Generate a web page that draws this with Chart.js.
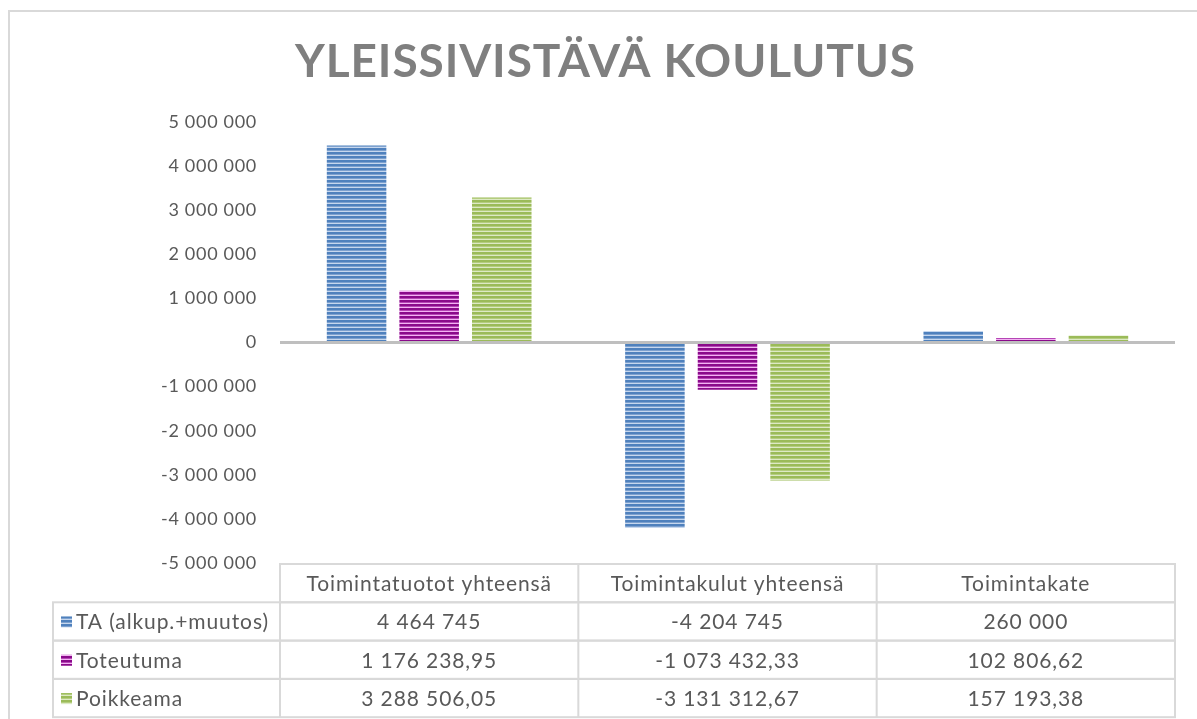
<!DOCTYPE html>
<html>
<head>
<meta charset="utf-8">
<script src="https://cdn.jsdelivr.net/npm/chart.js"></script>
<style>
  html, body { margin: 0; padding: 0; background: #fff; }
  #wrap { width: 1197px; height: 719px; position: relative; }
</style>
</head>
<body>
<div id="wrap"><canvas id="chart" width="1197" height="719"></canvas></div>
<script>
// data
const categories = ['Toimintatuotot yhteensä', 'Toimintakulut yhteensä', 'Toimintakate'];
const seriesNames = ['TA (alkup.+muutos)', 'Toteutuma', 'Poikkeama'];
const taValues = [4464745, -4204745, 260000];
const toteutumaValues = [1176238.95, -1073432.33, 102806.62];
const poikkeamaValues = [3288506.05, -3131312.67, 157193.38];
const yTicks = [5000000, 4000000, 3000000, 2000000, 1000000, 0, -1000000, -2000000, -3000000, -4000000, -5000000];

const FONT = 'Lato, "Open Sans", sans-serif';
const TEXT = '#595959';
const LINE = '#d9d9d9';

// striped fill like the excel pattern
function stripes(dark, mid, light) {
    const c = document.createElement('canvas');
    c.width = 4; c.height = 4;
    const g = c.getContext('2d');
    g.fillStyle = dark; g.fillRect(0, 0, 4, 2);
    g.fillStyle = mid; g.fillRect(0, 2, 4, 1);
    g.fillStyle = light; g.fillRect(0, 3, 4, 1);
    return g.createPattern(c, 'repeat');
}
const fills = [
    stripes('#4f81bd', '#7da1cf', '#c6d7ee'),
    stripes('#8a0a8a', '#b546b5', '#f2b3f2'),
    stripes('#9bbb59', '#b4cd7e', '#dde9c5')
];

function fmt(v) {
    const neg = v < 0;
    const a = Math.abs(v);
    let whole = Math.floor(a + 1e-9);
    let dec = Math.round((a - whole) * 100);
    let s = String(whole).replace(/\B(?=(\d{3})+(?!\d))/g, ' ');
    if (dec > 0) s += ',' + String(dec).padStart(2, '0');
    return (neg ? '-' : '') + s;
}

const allSeries = [taValues, toteutumaValues, poikkeamaValues];

const frame = {
    id: 'frame',
    beforeDraw(chart) {
        const ctx = chart.ctx;
        ctx.save();
        ctx.strokeStyle = LINE;
        ctx.lineWidth = 2;
        ctx.beginPath();
        ctx.moveTo(9, 719); ctx.lineTo(9, 11); ctx.lineTo(1197, 11);
        ctx.stroke();

        // title with letter spacing
        const title = 'YLEISSIVISTÄVÄ KOULUTUS';
        ctx.font = 'bold 46px ' + FONT;
        ctx.fillStyle = '#7f7f7f';
        ctx.textBaseline = 'alphabetic';
        ctx.textAlign = 'left';
        ctx.letterSpacing = '0px';
        const plain = ctx.measureText(title).width;
        const sp = (620 - plain) / (title.length - 1);
        ctx.letterSpacing = sp + 'px';
        ctx.fillText(title, 295, 77);
        ctx.restore();
        // a little spacing for the axis labels, like excel's text
        ctx.letterSpacing = '0.7px';
    }
};

const dataTable = {
    id: 'dataTable',
    afterDraw(chart) {
        const ctx = chart.ctx;
        const x = chart.scales.x;
        const area = chart.chartArea;
        const n = categories.length;
        const colW = (area.right - area.left) / n;
        const top = area.bottom + 1;
        const rowH = 38.3;
        const left = 53;
        ctx.save();
        ctx.strokeStyle = LINE;
        ctx.lineWidth = 2;
        // header row
        ctx.strokeRect(area.left, top, area.right - area.left, rowH);
        for (let i = 0; i < 3; i++) {
            const y = top + rowH * (i + 1);
            ctx.strokeRect(left, y, area.right - left, rowH);
        }
        ctx.beginPath();
        for (let c = 0; c <= n; c++) {
            const cx = area.left + colW * c;
            ctx.moveTo(cx, top); ctx.lineTo(cx, top + rowH * 4);
        }
        ctx.stroke();

        ctx.font = '21px ' + FONT;
        ctx.letterSpacing = '0.9px';
        ctx.fillStyle = TEXT;
        ctx.textBaseline = 'middle';
        ctx.textAlign = 'center';
        categories.forEach((c, i) => {
            ctx.fillText(c, x.getPixelForValue(i), top + rowH / 2 + 1);
        });
        allSeries.forEach((vals, r) => {
            const cy = top + rowH * (r + 1) + rowH / 2 + 1;
            ctx.fillStyle = fills[r];
            ctx.fillRect(61, cy - 6, 11, 11);
            ctx.fillStyle = TEXT;
            ctx.textAlign = 'left';
            ctx.fillText(seriesNames[r], 76, cy);
            ctx.textAlign = 'center';
            vals.forEach((v, i) => {
                ctx.fillText(fmt(v), x.getPixelForValue(i), cy);
            });
        });
        ctx.restore();
        ctx.letterSpacing = '0px';
    }
};

new Chart(document.getElementById('chart'), {
    type: 'bar',
    data: {
        labels: categories,
        datasets: seriesNames.map((name, i) => ({
            label: name,
            data: allSeries[i],
            backgroundColor: fills[i],
            borderWidth: 0,
            categoryPercentage: 0.73,
            barPercentage: 0.82
        }))
    },
    options: {
        responsive: false,
        animation: false,
        layout: { padding: { left: 0, right: 22, top: 122, bottom: 156 } },
        plugins: {
            legend: { display: false },
            tooltip: { enabled: false },
            title: { display: false }
        },
        scales: {
            x: { display: false },
            y: {
                min: -5000000,
                max: 5000000,
                afterBuildTicks: (s) => { s.ticks = yTicks.map(v => ({ value: v })); },
                afterFit: (s) => { s.width = 280; },
                border: { display: false },
                grid: {
                    drawTicks: false,
                    color: (c) => c.tick && c.tick.value === 0 ? '#bfbfbf' : 'rgba(0,0,0,0)',
                    lineWidth: (c) => c.tick && c.tick.value === 0 ? 3 : 0
                },
                ticks: {
                    color: TEXT,
                    font: { family: FONT, size: 18 },
                    padding: 23,
                    callback: (v) => fmt(v)
                }
            }
        }
    },
    plugins: [frame, dataTable]
});
</script>
</body>
</html>
